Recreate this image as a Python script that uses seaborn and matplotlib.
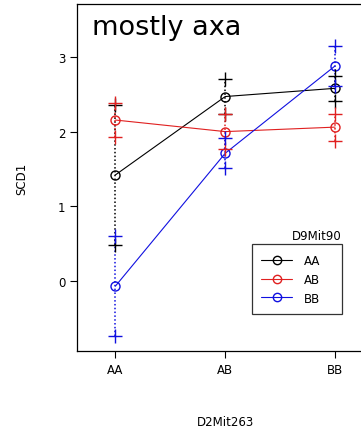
import numpy as np
import pandas as pd
import matplotlib
matplotlib.use("Agg")
import matplotlib.pyplot as plt
import seaborn as sns
from matplotlib.lines import Line2D

# data
x_cats = ["AA", "AB", "BB"]
groups = ["AA", "AB", "BB"]
mean_AA = [1.42, 2.47, 2.58]
se_AA = [0.94, 0.23, 0.165]
mean_AB = [2.155, 2.00, 2.06]
se_AB = [0.23, 0.23, 0.18]
mean_BB = [-0.07, 1.71, 2.88]
se_BB = [0.67, 0.20, 0.27]
colors = {"AA": "black", "AB": "#e02020", "BB": "#1010e0"}

rows = []
for g, m, s in zip(groups, [mean_AA, mean_AB, mean_BB], [se_AA, se_AB, se_BB]):
    for i, c in enumerate(x_cats):
        rows.append({"x": i, "geno": g, "mean": m[i], "lo": m[i] - s[i], "hi": m[i] + s[i]})
df = pd.DataFrame(rows)

sns.set_style("ticks")
plt.rcParams["font.family"] = ["DejaVu Sans"]
plt.rcParams["text.color"] = "black"
plt.rcParams["axes.labelcolor"] = "black"
fig = plt.figure(figsize=(3.61, 4.31), dpi=100)
ax = fig.add_axes([0.2133, 0.1833, 0.8213, 0.8051])

for g in groups:
    d = df[df.geno == g]
    col = colors[g]
    ax.vlines(d["x"], d["lo"], d["hi"], colors=col, linestyles=(0, (1, 1.5)), linewidth=1.1, zorder=2)
    sns.lineplot(data=d, x="x", y="mean", ax=ax, color=col, linewidth=0.8,
                 marker="o", markersize=6.5, markerfacecolor="none", markeredgecolor=col,
                 markeredgewidth=1.0, zorder=3, legend=False)
    pts = pd.concat([d[["x", "lo"]].rename(columns={"lo": "v"}), d[["x", "hi"]].rename(columns={"hi": "v"})])
    sns.scatterplot(data=pts, x="x", y="v", ax=ax, marker="+", s=110, color=col, linewidth=1.0, zorder=4, legend=False)

ax.set_xlim(-0.35, 2.35)
ax.set_ylim(-0.94, 3.71)
ax.set_xticks(range(3))
ax.set_xticklabels(x_cats)
ax.set_yticks([0, 1, 2, 3])
ax.set_yticklabels(["0", "1", "2", "3"])
ax.tick_params(axis="both", labelsize=8.5, length=5, width=0.8, color="black", labelcolor="black")
for sp in ax.spines.values():
    sp.set_color("black")
    sp.set_linewidth(0.9)
ax.set_xlabel("D2Mit263", fontsize=8.5, labelpad=28)
ax.set_ylabel("SCD1", fontsize=8.5, labelpad=21)

ax.text(0.05, 0.935, "mostly axa", transform=ax.transAxes, fontsize=19.5, va="center", ha="left", color="black")

handles = [Line2D([0], [0], color=colors[g], linewidth=0.8, marker="o", markersize=6,
                  markerfacecolor="none", markeredgecolor=colors[g]) for g in groups]
leg = ax.legend(handles, groups, loc="lower left", bbox_to_anchor=(0.590, 0.1066, 0.304, 0.205),
                mode="expand", fontsize=8.5, frameon=True, fancybox=False, handlelength=2.6,
                labelspacing=0.5, borderpad=0.8, handletextpad=1.0, borderaxespad=0)
leg.get_frame().set_edgecolor("black")
leg.get_frame().set_linewidth(0.9)
for t in leg.get_texts():
    t.set_color("black")
ax.text(0.894, 0.334, "D9Mit90", transform=ax.transAxes, fontsize=8.5, ha="right", va="center", color="black")

fig.savefig("out.png", dpi=100)
